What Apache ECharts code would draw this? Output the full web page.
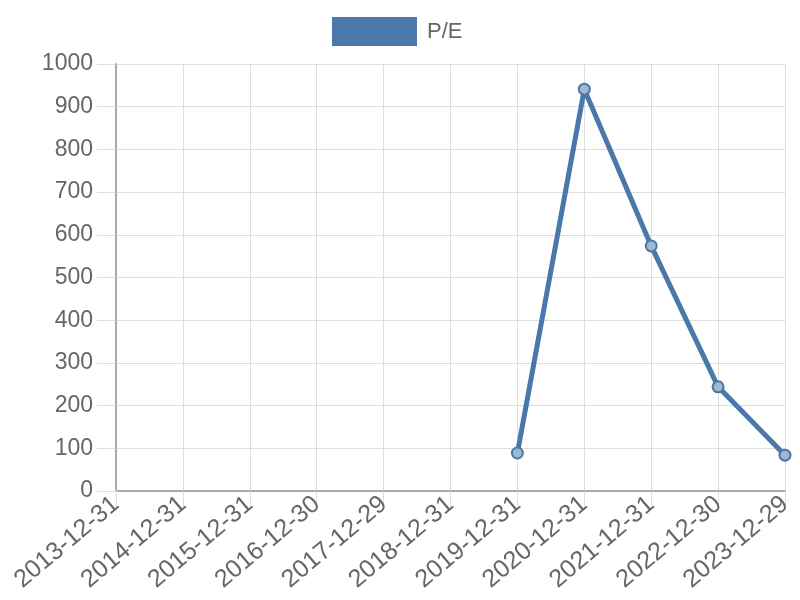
<!DOCTYPE html>
<html>
<head>
<meta charset="utf-8">
<script src="https://cdn.jsdelivr.net/npm/echarts@6/dist/echarts.min.js"></script>
<style>html,body{margin:0;padding:0;background:#fff}#c{width:800px;height:600px}</style>
</head>
<body>
<div id="c"></div>
<script>
const categories = ['2013-12-31','2014-12-31','2015-12-31','2016-12-30','2017-12-29','2018-12-31','2019-12-31','2020-12-31','2021-12-31','2022-12-30','2023-12-29'];
const peValues = [null,null,null,null,null,null,89,941,574,244,84];
const yTicks = {min:0, max:1000, interval:100};

const chart = echarts.init(document.getElementById('c'));
chart.setOption({
  animation:false,
  textStyle:{fontFamily:'"Liberation Sans", Arial, sans-serif'},
  legend:{
    top:12, left:327,
    itemWidth:85, itemHeight:29, itemGap:10,
    icon:'rect',
    textStyle:{color:'#666', fontSize:22, padding:[0,0,0,5], fontFamily:'"Liberation Sans", Arial, sans-serif'},
    data:[{name:'P/E', itemStyle:{color:'#4a78a9', borderWidth:0}}]
  },
  grid:{left:116, right:15, top:64, bottom:109, containLabel:false},
  xAxis:{
    type:'category', data:categories, boundaryGap:false,
    axisLine:{show:true, lineStyle:{color:'#aaaaaa', width:2}},
    axisTick:{show:true, length:19, inside:false, lineStyle:{color:'#dddddd'}},
    splitLine:{show:true, lineStyle:{color:'#dddddd', width:1}},
    axisLabel:{rotate:40, margin:10, color:'#666', fontSize:25, fontFamily:'"Liberation Sans", Arial, sans-serif', interval:0}
  },
  yAxis:{
    type:'value', min:yTicks.min, max:yTicks.max, interval:yTicks.interval,
    axisLine:{show:true, lineStyle:{color:'#aaaaaa', width:2}},
    axisTick:{show:true, length:19, lineStyle:{color:'#dddddd'}},
    splitLine:{show:true, lineStyle:{color:'#dddddd', width:1}},
    axisLabel:{margin:23, color:'#666', fontSize:23, fontFamily:'"Liberation Sans", Arial, sans-serif', formatter:function(v){return String(v);}}
  },
  series:[{
    name:'P/E', type:'line', data:peValues, connectNulls:false,
    symbol:'circle', symbolSize:11, showAllSymbol:true,
    lineStyle:{color:'#4a78a9', width:5},
    itemStyle:{color:'#a2b7d0', borderColor:'#4a78a9', borderWidth:2}
  }]
});
</script>
</body>
</html>
